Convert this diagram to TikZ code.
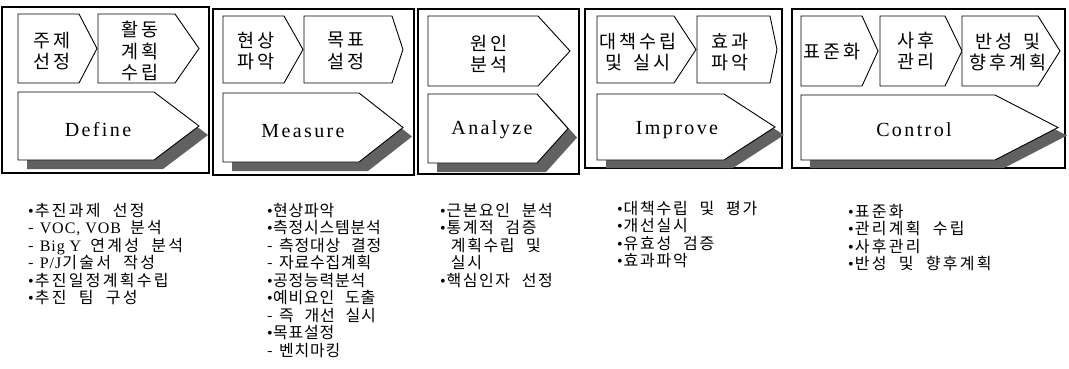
\documentclass[tikz,border=0pt]{standalone}
\usepackage{fontspec}
\setmainfont{Liberation Serif}
\newfontfamily\krbox{Noto Sans CJK KR}
\newfontfamily\krlist{Noto Sans CJK KR}
\newfontfamily\latlist{Liberation Serif}[LetterSpace=6]
\newfontfamily\latbig{Liberation Serif}[LetterSpace=12]
\newdimen\charwd \charwd=16pt
\newdimen\wsdim \wsdim=6pt
\makeatletter
\def\hsend{\relax hs-end}
\def\hs#1{\hsA#1\hsend}
\def\hsA{\futurelet\hsnext\hsB}
\def\hsB{\ifx\hsnext\hsend \expandafter\@gobble\else\ifx\hsnext\@sptoken \expandafter\expandafter\expandafter\hsSp\else\expandafter\expandafter\expandafter\hsC\fi\fi}
\def\hsC#1{\hbox to\charwd{\hss#1\hss}\hsA}
\expandafter\def\expandafter\hsSp\space{\hskip\wsdim\hsA}
\makeatother
\newcommand\mybul{{\latlist\textbullet}}
\newcommand\lat[1]{{\latlist\fontsize{16}{17.5}\selectfont #1}}
\newcommand\arrowbox[6][pbox]{\path[#1] (#2,#3) -- (#4,#3) -- (#5,{(#3+#6)/2}) -- (#4,#6) -- (#2,#6) -- cycle;}
\begin{document}
\begin{tikzpicture}[x=1pt,y=-1pt,
  frame/.style={draw=black,line width=1.1pt},
  pbox/.style={draw=black,line width=0.9pt,fill=white},
  shade/.style={fill=black!62,draw=none},
  boxlab/.style={font={\krbox\fontsize{18.5}{21.5}\selectfont\charwd=20pt\wsdim=8pt},align=center,inner sep=0pt},
  biglab/.style={font={\latbig\fontsize{20}{24}\selectfont},inner sep=0pt},
  listtxt/.style={font={\krlist\fontsize{16}{17.5}\selectfont\charwd=#1\wsdim=10pt},align=left,anchor=north west,inner sep=0pt}]
\useasboundingbox (0,0) rectangle (1069,368);
\fill[white] (0,0) rectangle (1069,368);
% frames
\draw[frame] (2,7) rectangle (209,173);
\draw[frame] (213,9) rectangle (414,175);
\draw[frame] (418,9) rectangle (579,174);
\draw[frame] (585,9) rectangle (782,168);
\draw[frame] (792,9) rectangle (1065,168);
% panel 1
\arrowbox{18}{14}{79}{97}{83}
\arrowbox{98}{14}{175}{199}{83}
\arrowbox[shade,shift={(9,9)}]{18}{92}{154}{199}{160}
\arrowbox{18}{92}{154}{199}{160}
% panel 2
\arrowbox{223}{16}{284}{303}{83}
\arrowbox{304}{16}{392}{403}{83}
\arrowbox[shade,shift={(9,9)}]{223}{93}{359}{403}{162}
\arrowbox{223}{93}{359}{403}{162}
% panel 3
\arrowbox{428}{16}{538}{570}{86}
\arrowbox[shade,shift={(9,9)}]{428}{94}{537}{568}{163}
\arrowbox{428}{94}{537}{568}{163}
% panel 4
\arrowbox{597}{16}{674}{696}{83}
\arrowbox{697}{16}{770}{777}{83}
\arrowbox[shade,shift={(9,8)}]{597}{94}{724}{775}{160}
\arrowbox{597}{94}{724}{775}{160}
% panel 5
\arrowbox{801}{16}{862}{878}{86}
\arrowbox{880}{16}{945}{962}{86}
\arrowbox{962}{16}{1038}{1060}{86}
\arrowbox[shade,shift={(9,8)}]{801}{95}{995}{1058}{160}
\arrowbox{801}{95}{995}{1058}{160}
% box labels
\node[boxlab] (l11) at (52,51) {\hs{주제}\\\hs{선정}};
\node[boxlab] (l12) at (140,51) {\hs{활동}\\\hs{계획}\\\hs{수립}};
\node[boxlab] (l21) at (256,51) {\hs{현상}\\\hs{파악}};
\node[boxlab] (l22) at (346,51) {\hs{목표}\\\hs{설정}};
\node[boxlab] (l31) at (489,54) {\hs{원인}\\\hs{분석}};
\node[boxlab] (l41) at (638,52) {\hs{대책수립}\\\hs{및 실시}};
\node[boxlab] (l42) at (730,52) {\hs{효과}\\\hs{파악}};
\node[boxlab] (l51) at (832,52) {\hs{표준화}};
\node[boxlab] (l52) at (916,51) {\hs{사후}\\\hs{관리}};
\node[boxlab] (l53) at (1008,52) {\hs{반성 및}\\\hs{향후계획}};
% big labels
\node[biglab] (d) at (98,130) {Define};
\node[biglab] (m) at (303,131) {Measure};
\node[biglab] (a) at (492,130) {Analyze};
\node[biglab] (i) at (677,130) {Improve};
\node[biglab] (c) at (914,130) {Control};
% lists
\node[listtxt=17pt] (c1) at (28,203) {\mybul\hs{추진과제 선정}\\
-\hspace{6pt}\lat{VOC, VOB}\hspace{8pt}\hs{분석}\\
-\hspace{6pt}\lat{Big Y}\hspace{8pt}\hs{연계성 분석}\\
-\hspace{6pt}\lat{P/J}\hs{기술서 작성}\\
\mybul\hs{추진일정계획수립}\\
\mybul\hs{추진 팀 구성}};
\node[listtxt=15.5pt] (c2) at (267,203) {\mybul\hs{현상파악}\\
\mybul\hs{측정시스템분석}\\
-\hspace{6pt}\hs{측정대상 결정}\\
-\hspace{6pt}\hs{자료수집계획}\\
\mybul\hs{공정능력분석}\\
\mybul\hs{예비요인 도출}\\
-\hspace{6pt}\hs{즉 개선 실시}\\
\mybul\hs{목표설정}\\
-\hspace{6pt}\hs{벤치마킹}};
\node[listtxt=16.3pt] (c3) at (440,203) {\mybul\hs{근본요인 분석}\\
\mybul\hs{통계적 검증}\\
\hspace*{10pt}\hs{계획수립 및}\\
\hspace*{10pt}\hs{실시}\\
\mybul\hs{핵심인자 선정}};
\node[listtxt=16.5pt] (c4) at (617,201) {\mybul\hs{대책수립 및 평가}\\
\mybul\hs{개선실시}\\
\mybul\hs{유효성 검증}\\
\mybul\hs{효과파악}};
\node[listtxt=17pt] (c5) at (848,204) {\mybul\hs{표준화}\\
\mybul\hs{관리계획 수립}\\
\mybul\hs{사후관리}\\
\mybul\hs{반성 및 향후계획}};
\end{tikzpicture}
\end{document}
